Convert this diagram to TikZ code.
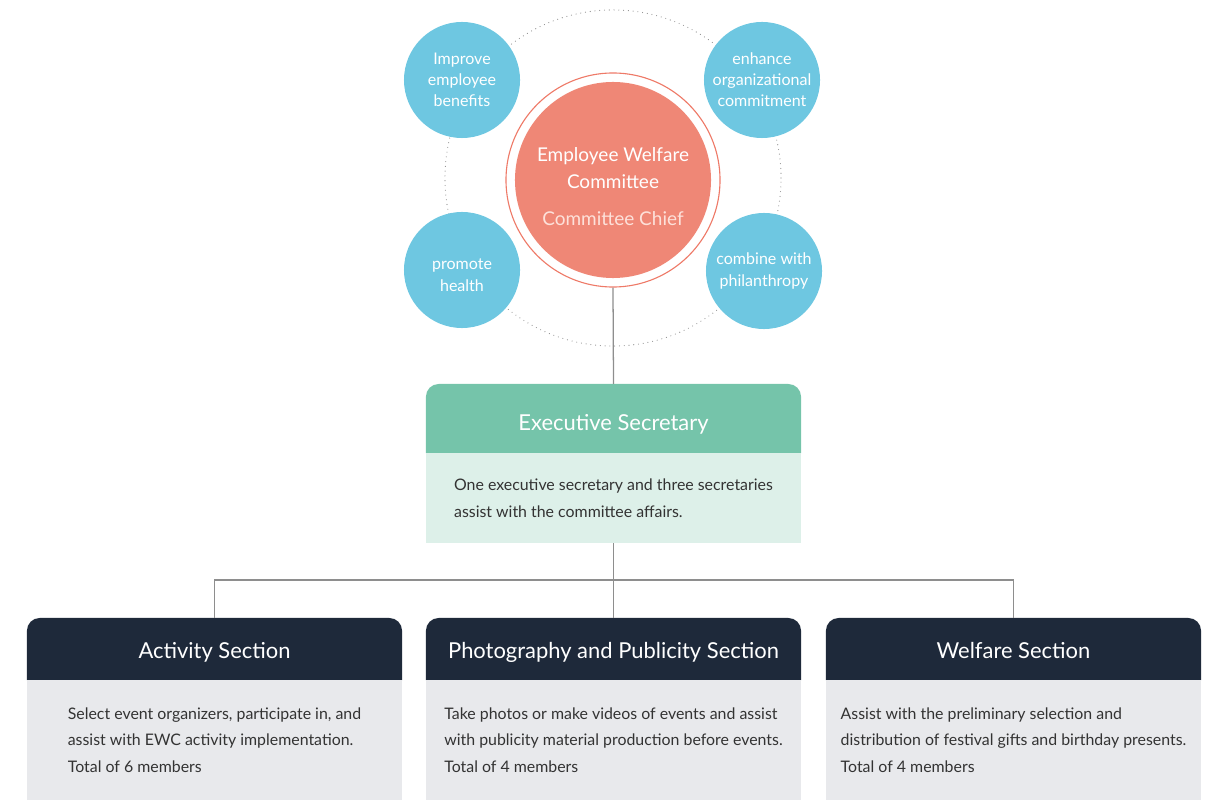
\documentclass[tikz,border=0pt]{standalone}
\usepackage{fontspec}
\setmainfont{Lato}
\usetikzlibrary{positioning,backgrounds}
\definecolor{skyb}{HTML}{6EC7E1}
\definecolor{salmon}{HTML}{EF8776}
\definecolor{ringc}{HTML}{EE7A68}
\definecolor{chieft}{HTML}{FDE1DA}
\definecolor{mint}{HTML}{75C4AA}
\definecolor{mintlt}{HTML}{DDF0E9}
\definecolor{navy}{HTML}{1E293A}
\definecolor{paper}{HTML}{E8E9EC}
\definecolor{ink}{HTML}{333333}
\definecolor{wire}{HTML}{8E8E8E}
\tikzset{
  goal/.style={circle,fill=skyb,text=white,minimum size=2.9cm,inner sep=0pt,
               align=center,font=\fontsize{11.4}{15}\selectfont},
  chiefc/.style={circle,fill=salmon,minimum size=4.9cm,inner sep=0pt},
  ring/.style={circle,draw=ringc,line width=.8pt,minimum size=5.35cm,inner sep=0pt},
  hd/.style={minimum width=9.375cm,inner sep=0pt,outer sep=0pt,text=white,
             text depth=0pt,text height=14pt,font=\fontsize{15.6}{18}\selectfont},
  bdy/.style={minimum width=9.375cm,inner sep=0pt,outer sep=0pt,text=ink,
              align=left,font=\fontsize{11.3}{19}\selectfont},
  conn/.style={draw=wire,line width=.9pt},
  dots/.style={draw=black!45,line width=.8pt,line cap=round,
               dash pattern=on 0pt off 3.4pt},
}
\begin{document}
\begin{tikzpicture}[x=0.025cm,y=-0.025cm]
  \useasboundingbox (0,0) rectangle (1205,800);
  % goals around the committee
  \draw[dots] (613,178) circle (4.2cm);
  \node[goal] (benefit) at (462,80) {Improve\\employee\\benefits};
  \node[goal] (commit) at (762,80) {enhance\\organizational\\commitment};
  \node[goal,text height=30pt,text depth=0pt] (health) at (462,270) {promote\\health};
  \node[goal] (phil) at (764,271) {combine with\\philanthropy};
  \node[ring] (chiefring) at (613,180) {};
  \node[chiefc] (chief) at (613,180) {};
  \node[text=white,align=center,font=\fontsize{13.5}{19}\selectfont] (chieftxt) at (613,186.5)
    {Employee Welfare\\Committee\\[7pt]{\color{chieft}Committee Chief}};
  % executive secretary
  \node[hd,text height=17.6pt,minimum height=1.725cm] (exec) at (613.5,418.5) {Executive Secretary};
  \node[bdy,fill=mintlt,minimum height=2.25cm,below=0pt of exec] (execBody)
    {One executive secretary and three secretaries\\assist with the committee affairs.};
  % sections
  \node[hd,minimum height=1.55cm] (act) at (214.5,649) {Activity Section};
  \node[bdy,fill=paper,minimum height=3cm,below=0pt of act] (actBody)
    {Select event organizers, participate in, and\\assist with EWC activity implementation.\\Total of 6 members};
  \node[hd,minimum height=1.55cm] (photo) at (613.5,649) {Photography and Publicity Section};
  \node[bdy,fill=paper,minimum height=3cm,below=0pt of photo] (photoBody)
    {Take photos or make videos of events and assist\\with publicity material production before events.\\Total of 4 members};
  \node[hd,minimum height=1.55cm] (welf) at (1013.5,649) {Welfare Section};
  \node[bdy,fill=paper,minimum height=3cm,below=0pt of welf] (welfBody)
    {Assist with the preliminary selection and\\distribution of festival gifts and birthday presents.\\Total of 4 members};
  \begin{scope}[on background layer]
    \foreach \h/\c in {exec/mint,act/navy,photo/navy,welf/navy}
      \fill[\c] (\h.south west) [rounded corners=9pt] -- (\h.north west)
        -- (\h.north east) [sharp corners] -- (\h.south east) -- cycle;
  \end{scope}
  % connectors
  \coordinate (split) at (613.5,580);
  \draw[conn] (chiefring.south) -- (exec.north);
  \draw[conn] (execBody.south) -- (split);
  \draw[conn] (split) -| (act.north);
  \draw[conn] (split) -- (photo.north);
  \draw[conn] (split) -| (welf.north);
\end{tikzpicture}
\end{document}
